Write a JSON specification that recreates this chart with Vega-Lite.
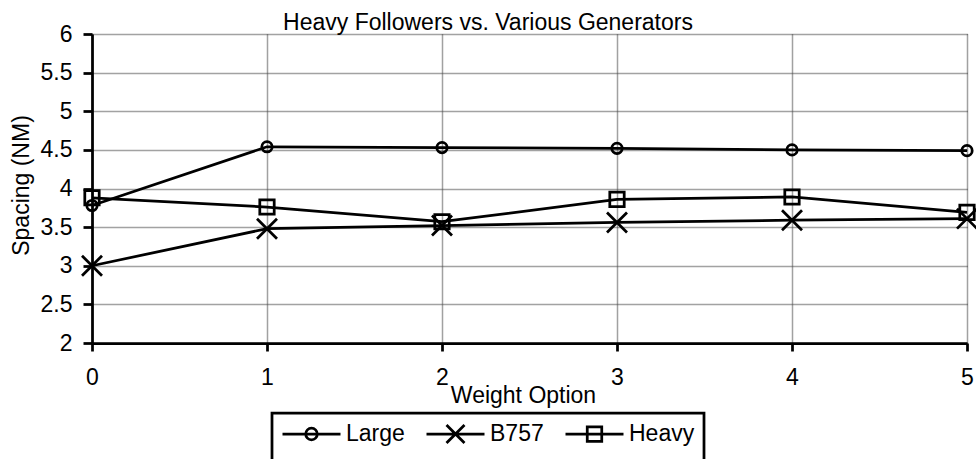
{
  "$schema": "https://vega.github.io/schema/vega-lite/v6.json",
  "width": 875,
  "height": 309,
  "autosize": "none",
  "padding": {"left": 92, "top": 34, "right": 9, "bottom": 116},
  "background": "white",
  "title": {
    "text": "Heavy Followers vs. Various Generators",
    "font": "Liberation Sans",
    "fontSize": 23,
    "fontWeight": "normal",
    "color": "black",
    "anchor": "middle",
    "dx": -41.5,
    "baseline": "alphabetic",
    "offset": -30
  },
  "data": {
    "values": [
      {"x": 0, "series": "Large", "y": 3.78},
      {"x": 1, "series": "Large", "y": 4.54},
      {"x": 2, "series": "Large", "y": 4.53},
      {"x": 3, "series": "Large", "y": 4.52},
      {"x": 4, "series": "Large", "y": 4.50},
      {"x": 5, "series": "Large", "y": 4.49},
      {"x": 0, "series": "B757", "y": 3.00},
      {"x": 1, "series": "B757", "y": 3.48},
      {"x": 2, "series": "B757", "y": 3.52},
      {"x": 3, "series": "B757", "y": 3.56},
      {"x": 4, "series": "B757", "y": 3.59},
      {"x": 5, "series": "B757", "y": 3.61},
      {"x": 0, "series": "Heavy", "y": 3.88},
      {"x": 1, "series": "Heavy", "y": 3.76},
      {"x": 2, "series": "Heavy", "y": 3.57},
      {"x": 3, "series": "Heavy", "y": 3.86},
      {"x": 4, "series": "Heavy", "y": 3.89},
      {"x": 5, "series": "Heavy", "y": 3.69}
    ]
  },
  "encoding": {
    "x": {
      "field": "x",
      "type": "quantitative",
      "scale": {"domain": [0, 5], "nice": false, "zero": false},
      "axis": {
        "title": "Weight Option",
        "values": [0, 1, 2, 3, 4, 5],
        "format": "d",
        "tickSize": 8,
        "labelPadding": 33.5,
        "labelBaseline": "alphabetic",
        "labelFlush": false,
        "titleX": 431,
        "titleY": 59,
        "titleBaseline": "alphabetic",
        "titleAlign": "center"
      }
    },
    "y": {
      "field": "y",
      "type": "quantitative",
      "scale": {"domain": [2, 6], "nice": false, "zero": false},
      "axis": {
        "title": "Spacing (NM)",
        "values": [2, 2.5, 3, 3.5, 4, 4.5, 5, 5.5, 6],
        "format": "~g",
        "tickSize": 9,
        "labelPadding": 11,
        "labelFlush": false,
        "titleAngle": -90,
        "titleX": -71,
        "titleY": 151,
        "titleBaseline": "middle",
        "titleAlign": "center"
      }
    }
  },
  "layer": [
    {
      "mark": {"type": "line", "color": "black", "strokeWidth": 2.75},
      "encoding": {"detail": {"field": "series"}}
    },
    {
      "mark": {"type": "point", "filled": false, "color": "black", "strokeWidth": 2.75, "size": 400, "opacity": 1},
      "encoding": {
        "shape": {
          "field": "series",
          "type": "nominal",
          "scale": {
            "domain": ["Large", "B757", "Heavy"],
            "range": [
              "M0.52,0A0.52,0.52,0,1,1,-0.52,0A0.52,0.52,0,1,1,0.52,0Z",
              "M-1,-1L1,1M-1,1L1,-1",
              "M-0.72,-0.72L0.72,-0.72L0.72,0.72L-0.72,0.72Z"
            ]
          },
          "legend": null
        }
      }
    },
    {
      "transform": [{"filter": "datum.x < 0"}],
      "mark": {"type": "point", "filled": false, "color": "black", "strokeWidth": 2.75, "opacity": 1},
      "encoding": {
        "shape": {
          "field": "series",
          "type": "nominal",
          "scale": {
            "domain": ["Large", "B757", "Heavy"],
            "range": [
              "M-1,0L1,0M0.2,0A0.2,0.2,0,1,1,-0.2,0A0.2,0.2,0,1,1,0.2,0Z",
              "M-1,0L1,0M-0.31,-0.31L0.31,0.31M-0.31,0.31L0.31,-0.31",
              "M-1,0L1,0M-0.25,-0.25L0.25,-0.25L0.25,0.25L-0.25,0.25Z"
            ]
          },
          "legend": {
            "title": " ",
            "titleOrient": "bottom",
            "titleFontSize": 23,
            "titlePadding": 10,
            "orient": "none",
            "legendX": 180,
            "legendY": 379,
            "direction": "horizontal",
            "padding": 9,
            "clipHeight": 24,
            "symbolSize": 3364,
            "symbolStrokeWidth": 2.75,
            "symbolStrokeColor": "black",
            "symbolFillColor": "transparent",
            "symbolOpacity": 1,
            "labelOffset": 4,
            "columnPadding": 20,
            "strokeColor": "black"
          }
        }
      }
    }
  ],
  "resolve": {"scale": {"shape": "independent"}, "legend": {"shape": "independent"}},
  "config": {
    "view": {"stroke": null},
    "axis": {
      "labelFont": "Liberation Sans",
      "labelFontSize": 23,
      "labelColor": "black",
      "titleFont": "Liberation Sans",
      "titleFontSize": 23,
      "titleFontWeight": "normal",
      "titleColor": "black",
      "domainColor": "black",
      "domainWidth": 2.75,
      "tickColor": "black",
      "tickWidth": 2.75,
      "grid": true,
      "gridColor": "#444444",
      "gridWidth": 1.5,
      "gridDash": [1, 1]
    },
    "legend": {
      "labelFont": "Liberation Sans",
      "labelFontSize": 23,
      "labelColor": "black",
      "titleFont": "Liberation Sans",
      "strokeWidth": 2.75
    }
  }
}
